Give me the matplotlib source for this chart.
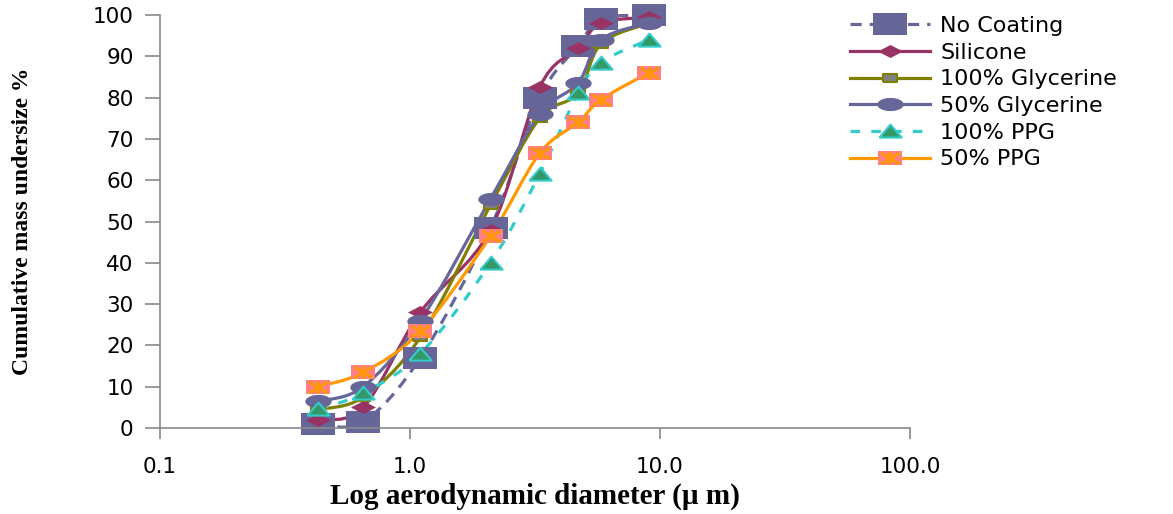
import numpy as np
import matplotlib
matplotlib.use("Agg")
import matplotlib.pyplot as plt
from matplotlib.path import Path
from matplotlib.patches import PathPatch
from matplotlib.lines import Line2D

# cut-off diameters of the impactor stages (um)
diameters = [0.43, 0.65, 1.1, 2.1, 3.3, 4.7, 5.8, 9.0]

no_coating = [1, 1.5, 17, 48.5, 80, 92.5, 99, 100]
silicone = [2, 5, 28, 48, 82.5, 92, 98, 99.5]
glycerine_100 = [4.5, 7.5, 22, 54, 75, 81, 93, 98]
glycerine_50 = [6.5, 10, 26, 55.5, 76, 83.5, 94, 98]
ppg_100 = [4.5, 8.5, 18, 40, 61.5, 81, 88.5, 94]
ppg_50 = [10, 13.5, 23.5, 46.5, 66.5, 74, 79.5, 86]

labels = ["No Coating", "Silicone", "100% Glycerine", "50% Glycerine", "100% PPG", "50% PPG"]
series = [no_coating, silicone, glycerine_100, glycerine_50, ppg_100, ppg_50]

x_ticks = [0.1, 1, 10, 100]
x_ticklabels = ["0.1", "1.0", "10.0", "100.0"]


def smooth_path(x, y):
    # excel style smoothed line: catmull-rom bezier in log-x space
    lx = np.log10(x)
    y = np.asarray(y, float)
    pts = np.column_stack([lx, y])
    verts = [pts[0]]
    codes = [Path.MOVETO]
    n = len(pts)
    for i in range(n - 1):
        p0 = pts[max(i - 1, 0)]
        p1 = pts[i]
        p2 = pts[i + 1]
        p3 = pts[min(i + 2, n - 1)]
        c1 = p1 + (p2 - p0) / 6.0
        c2 = p2 - (p3 - p1) / 6.0
        verts += [c1, c2, p2]
        codes += [Path.CURVE4] * 3
    verts = np.array(verts)
    verts[:, 0] = 10 ** verts[:, 0]
    return Path(verts, codes)


def rect(r):
    return [(-1, -r), (1, -r), (1, r), (-1, r), (-1, -r)]


def ellipse(r):
    t = np.linspace(0, 2 * np.pi, 41)
    return list(zip(np.cos(t), r * np.sin(t)))


diamond = [(-1, 0), (0, 0.52), (1, 0), (0, -0.52), (-1, 0)]
triangle = [(-1, -0.55), (1, -0.55), (0, 0.62), (-1, -0.55)]
asterisk = Path([(0, -0.9), (0, 0.9), (-1.3, -0.8), (1.3, 0.8), (-1.3, 0.8), (1.3, -0.8)],
                [Path.MOVETO, Path.LINETO] * 3)

styles = [
    dict(color="#666699", ls=(0, (3.5, 2.5)), marker=rect(0.62), ms=24.5, mfc="#666699", mec="#666699", mew=0),
    dict(color="#993366", ls="-", marker=diamond, ms=18, mfc="#993366", mec="#993366", mew=0),
    dict(color="#808000", ls="-", marker=rect(0.6), ms=10, mfc="#808080", mec="#808000", mew=1.5),
    dict(color="#666699", ls="-", marker=ellipse(0.5), ms=19, mfc="#666699", mec="#666699", mew=0),
    dict(color="#33CCCC", ls=(0, (3, 3.5)), marker=triangle, ms=16, mfc="#339966", mec="#33CCCC", mew=1.5),
    dict(color="#FF9900", ls="-", marker=rect(0.58), ms=17, mfc="#FF8080", mec="#FF8080", mew=0),
]

fig = plt.figure(figsize=(11.73, 5.14), dpi=100)
ax = fig.add_axes([0.1364, 0.1673, 0.6394, 0.8035])
ax.set_xscale("log")

handles = []
for vals, st, lab in zip(series, styles, labels):
    patch = PathPatch(smooth_path(diameters, vals), fill=False, edgecolor=st["color"],
                      lw=2.3, linestyle=st["ls"], clip_on=False, capstyle="butt")
    ax.add_patch(patch)
    ax.plot(diameters, vals, ls="none", marker=st["marker"], ms=st["ms"], mfc=st["mfc"],
            mec=st["mec"], mew=st["mew"], clip_on=False)
    h = [Line2D([], [], color=st["color"], lw=2.3, ls=st["ls"], marker=st["marker"], ms=st["ms"],
                mfc=st["mfc"], mec=st["mec"], mew=st["mew"])]
    if lab == "50% PPG":
        ax.plot(diameters, vals, ls="none", marker=asterisk, ms=13, mfc="none", mec="#FF9900",
                mew=2, clip_on=False)
        h.append(Line2D([], [], ls="none", marker=asterisk, ms=13, mfc="none", mec="#FF9900", mew=2))
    handles.append(tuple(h) if len(h) > 1 else h[0])

ax.set_xlim(0.1, 100)
ax.set_ylim(0, 100)
ax.set_xticks(x_ticks)
ax.set_xticklabels(x_ticklabels)
ax.xaxis.set_minor_locator(matplotlib.ticker.NullLocator())
ax.set_yticks(range(0, 101, 10))

for s in ["top", "right"]:
    ax.spines[s].set_visible(False)
for s in ["left", "bottom"]:
    ax.spines[s].set_color("#898989")
    ax.spines[s].set_linewidth(1.2)
ax.tick_params(axis="y", length=11, width=1.2, color="#898989", pad=8, labelsize=15.5)
ax.tick_params(axis="x", length=8, width=1.2, color="#898989", pad=13, labelsize=15.5)

ax.set_xlabel("Log aerodynamic diameter (µ m)", fontsize=21, fontweight="bold",
              family="Liberation Serif", labelpad=4)
fig.text(0.019, 0.57, "Cumulative mass undersize %", rotation=90, fontsize=17,
         fontweight="bold", family="Liberation Serif", ha="center", va="center")

ax.legend(handles, labels, loc="upper left", bbox_to_anchor=(850 / 1173, 1 - 16 / 514),
          bbox_transform=fig.transFigure, frameon=False, fontsize=16, handlelength=3.6,
          handletextpad=0.45, labelspacing=0.3, borderpad=0, borderaxespad=0)

fig.savefig("out.png", dpi=100)
